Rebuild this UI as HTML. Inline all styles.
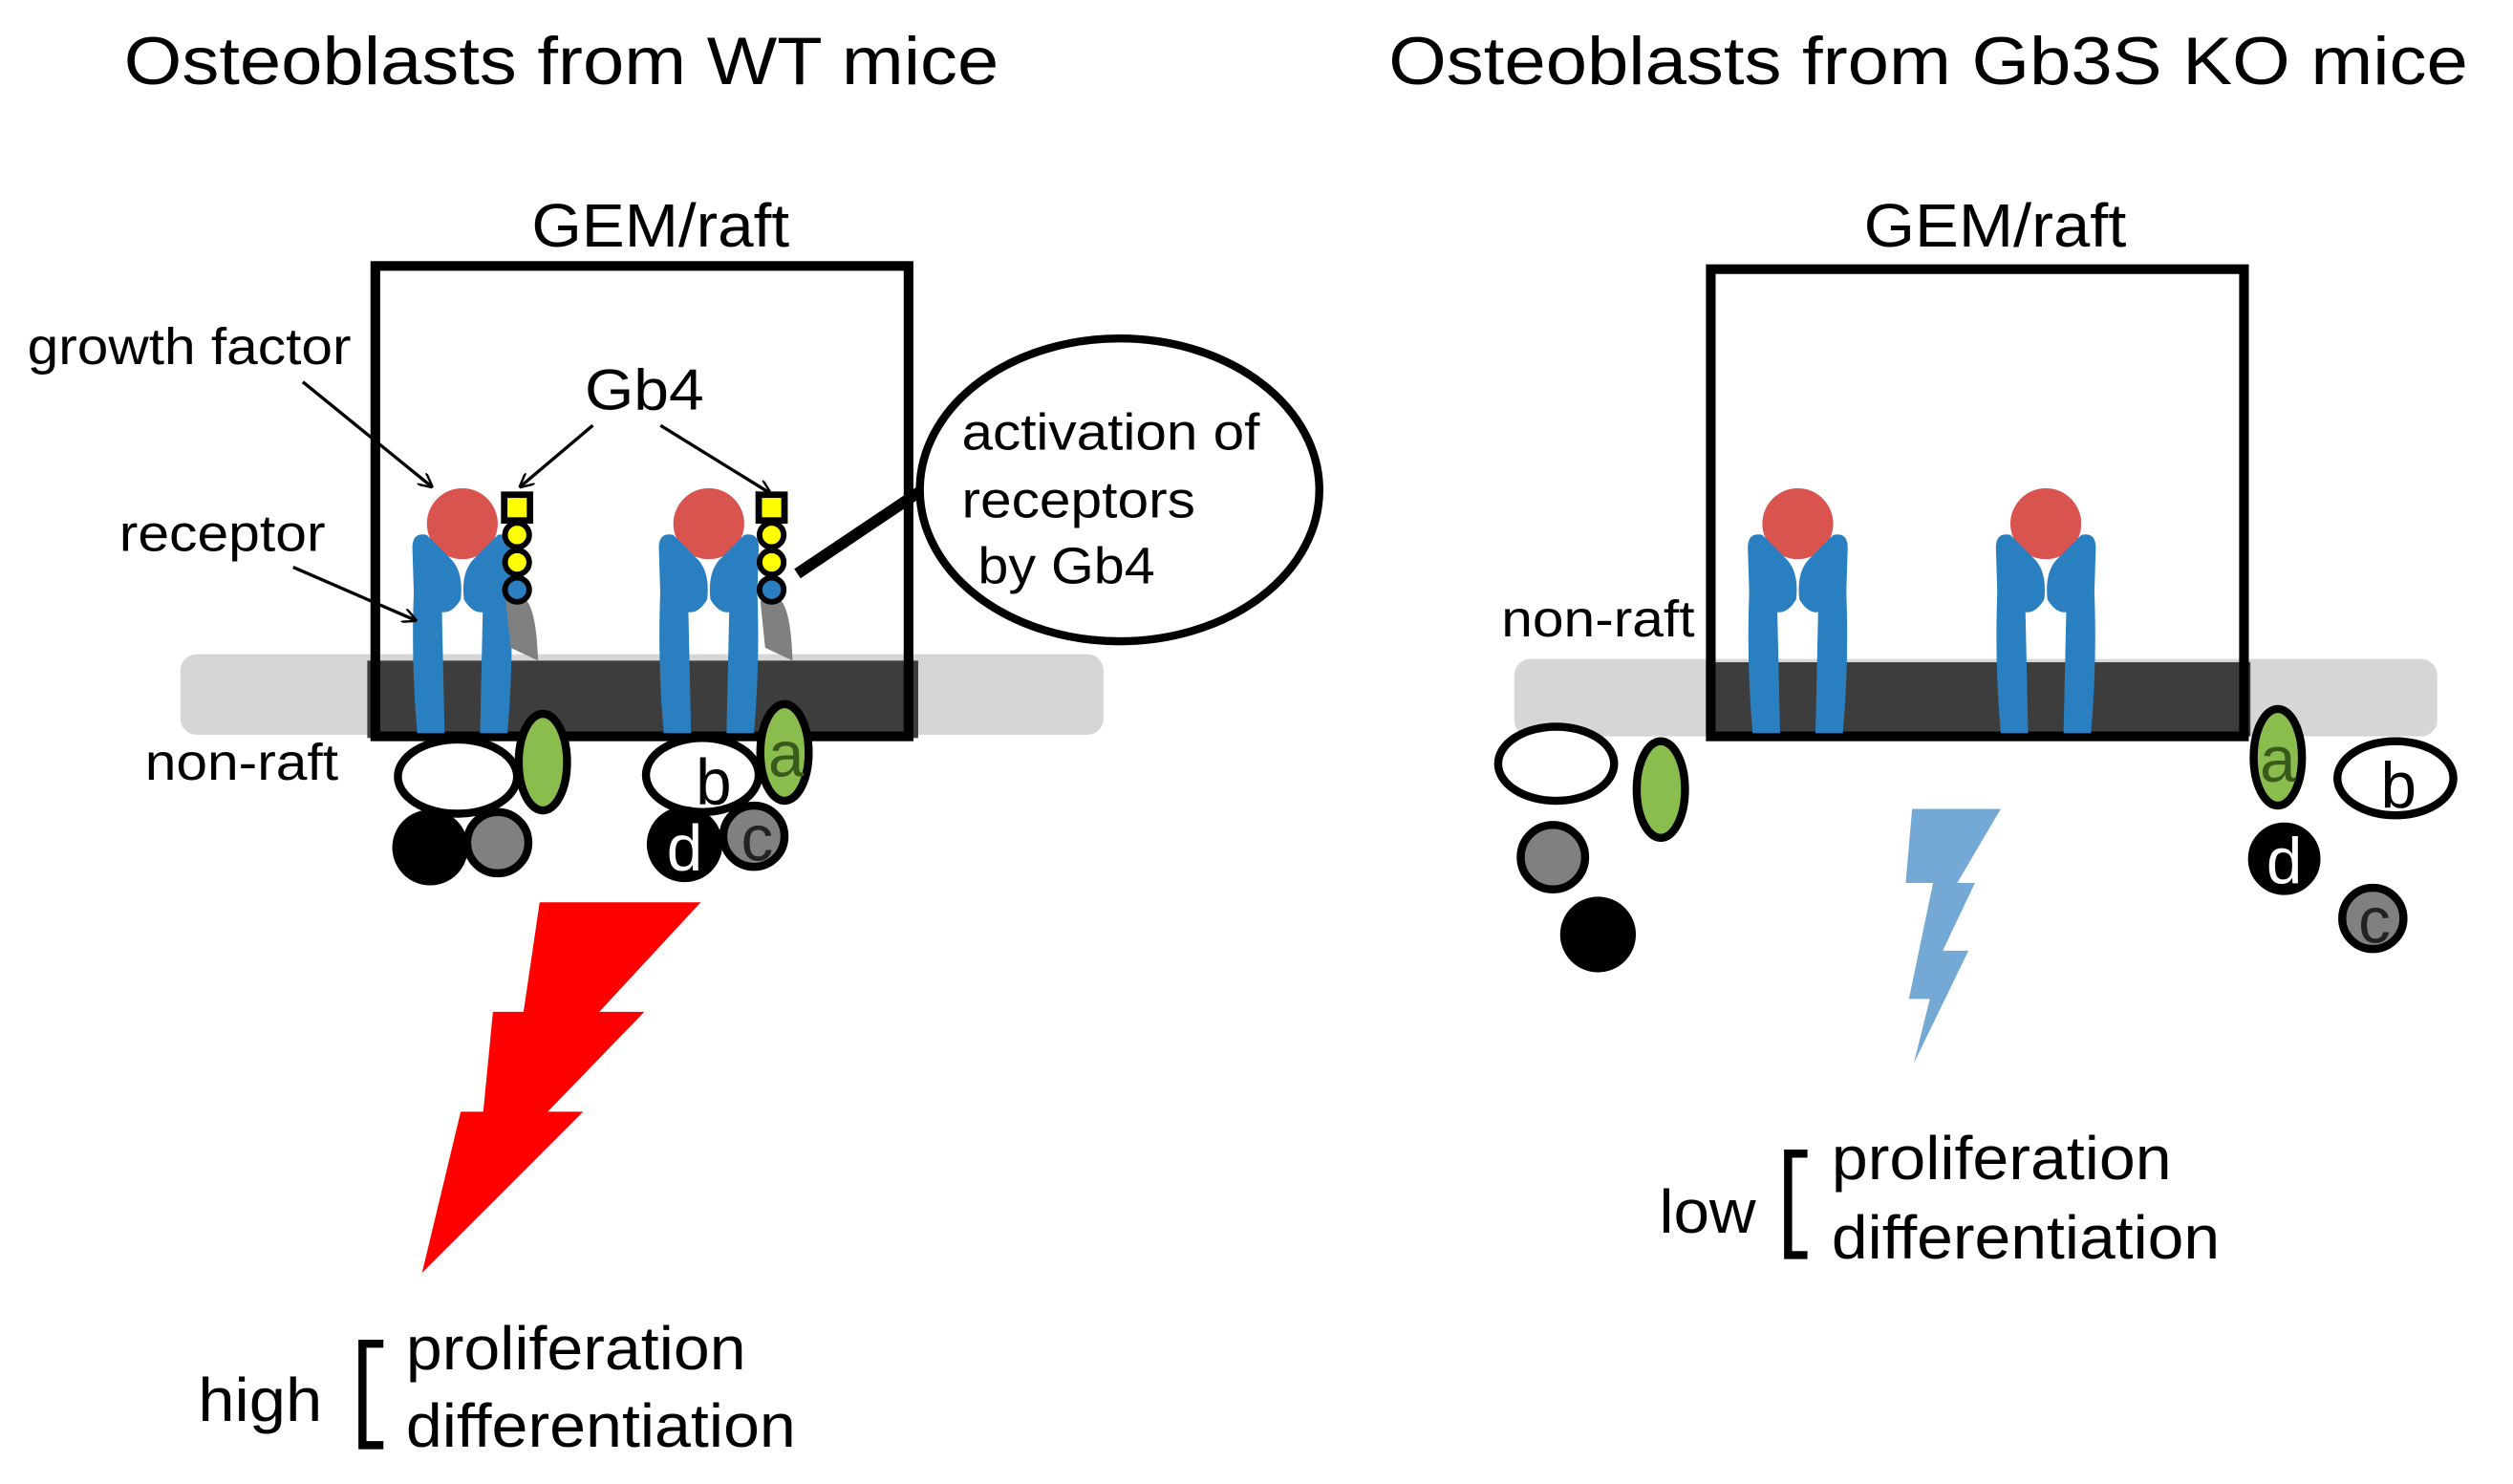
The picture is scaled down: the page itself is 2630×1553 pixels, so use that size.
<!DOCTYPE html>
<html><head><meta charset="utf-8"><style>
html,body{margin:0;padding:0;background:#fff}
svg{display:block}
text{font-family:"Liberation Sans",Arial,sans-serif;fill:#000}
</style></head><body>
<svg width="2630" height="1553" viewBox="0 0 1560 921" xmlns="http://www.w3.org/2000/svg">
<defs>
<g id="rec">
  <circle cx="0" cy="325" r="22" fill="#d9534f"/>
  <g fill="#2a7fc0">
    <path d="M-31,340 Q-31,330 -22,332 L-8,346 Q1,354 -1,372 Q-8,384 -18,378 L-30,372 Z"/>
    <path d="M-30,365 L-13,365 L-11,455 L-28,455 Q-32,410 -30,365 Z"/>
    <g transform="scale(-1,1)">
      <path d="M-31,340 Q-31,330 -22,332 L-8,346 Q1,354 -1,372 Q-8,384 -18,378 L-30,372 Z"/>
      <path d="M-30,365 L-13,365 L-11,455 L-28,455 Q-32,410 -30,365 Z"/>
    </g>
  </g>
</g>
<g id="gb4">
  <path d="M-7,373 L6,373 Q12,380 13,410 L-4,402 Z" fill="#808080"/>
  <rect x="-8" y="307" width="16" height="16" fill="#ffff00" stroke="#000" stroke-width="4"/>
  <circle cx="0" cy="332" r="7.5" fill="#ffff00" stroke="#000" stroke-width="3.5"/>
  <circle cx="0" cy="349" r="7.5" fill="#ffff00" stroke="#000" stroke-width="3.5"/>
  <circle cx="0" cy="366" r="7.5" fill="#2a7fc0" stroke="#000" stroke-width="3.5"/>
</g>
<marker id="ah" viewBox="0 0 10 10" refX="9" refY="5" markerWidth="9" markerHeight="9" orient="auto" markerUnits="userSpaceOnUse">
  <path d="M0,0 L10,5 L0,10" fill="none" stroke="#000" stroke-width="1.6"/>
</marker>
</defs>

<text x="77" y="52" font-size="42" textLength="543" lengthAdjust="spacingAndGlyphs">Osteoblasts from WT mice</text>
<text x="862" y="52" font-size="42" textLength="670" lengthAdjust="spacingAndGlyphs">Osteoblasts from Gb3S KO mice</text>

<!-- LEFT PANEL -->
<text x="330" y="153" font-size="38" textLength="160" lengthAdjust="spacingAndGlyphs">GEM/raft</text>
<rect x="112" y="406" width="573" height="50" rx="10" fill="#d6d6d6"/>
<rect x="228" y="410" width="342" height="48" fill="#3d3d3d"/>
<rect x="233" y="165" width="331" height="292" fill="none" stroke="#000" stroke-width="6"/>
<use href="#rec" x="287"/>
<use href="#rec" x="440"/>
<use href="#gb4" x="321"/>
<use href="#gb4" x="479"/>

<text x="17" y="226" font-size="32" textLength="201" lengthAdjust="spacingAndGlyphs">growth factor</text>
<text x="74" y="342" font-size="32" textLength="128" lengthAdjust="spacingAndGlyphs">receptor</text>
<text x="363" y="254" font-size="36" textLength="74" lengthAdjust="spacingAndGlyphs">Gb4</text>
<text x="90" y="484" font-size="32" textLength="120" lengthAdjust="spacingAndGlyphs">non-raft</text>
<g stroke="#000" stroke-width="2" fill="none" marker-end="url(#ah)">
  <line x1="188" y1="237" x2="268" y2="302"/>
  <line x1="182" y1="352" x2="258" y2="385"/>
  <line x1="368" y1="264" x2="323" y2="302"/>
  <line x1="410" y1="264" x2="478" y2="306"/>
</g>
<ellipse cx="695" cy="304" rx="124" ry="94" fill="#fff" stroke="#000" stroke-width="5"/>
<line x1="495" y1="356" x2="571" y2="305" stroke="#000" stroke-width="7"/>
<text x="597" y="279" font-size="32" textLength="185" lengthAdjust="spacingAndGlyphs">activation of</text>
<text x="597" y="321" font-size="32" textLength="145" lengthAdjust="spacingAndGlyphs">receptors</text>
<text x="607" y="362" font-size="32" textLength="110" lengthAdjust="spacingAndGlyphs">by Gb4</text>

<g stroke="#000" stroke-width="5">
  <ellipse cx="284" cy="482" rx="37" ry="23" fill="#fff"/>
  <ellipse cx="337" cy="473" rx="15" ry="30" fill="#8bbd4e"/>
  <circle cx="267" cy="526" r="21" fill="#000"/>
  <circle cx="309" cy="523" r="19" fill="#808080"/>
  <ellipse cx="436" cy="481" rx="35" ry="23" fill="#fff"/>
  <ellipse cx="487" cy="467" rx="15" ry="30" fill="#8bbd4e"/>
  <circle cx="468" cy="519" r="19" fill="#808080"/>
  <circle cx="425" cy="524" r="21" fill="#000"/>
</g>
<text x="443" y="499" font-size="40" text-anchor="middle">b</text>
<text x="488" y="482" font-size="40" text-anchor="middle" style="fill:#3a5a1c">a</text>
<text x="470" y="534" font-size="40" text-anchor="middle" style="fill:#222">c</text>
<text x="425" y="540" font-size="40" text-anchor="middle" style="fill:#fff">d</text>

<polygon points="335,560 435,560 372,628 400,628 340,690 362,690 262,790 286,690 300,690 306,628 325,628" fill="#ff0000"/>

<text x="123" y="882" font-size="38" textLength="77" lengthAdjust="spacingAndGlyphs">high</text>
<path d="M238,834 L225,834 L225,897 L238,897" fill="none" stroke="#000" stroke-width="5"/>
<text x="252" y="850" font-size="38" textLength="211" lengthAdjust="spacingAndGlyphs">proliferation</text>
<text x="252" y="898" font-size="38" textLength="242" lengthAdjust="spacingAndGlyphs">differentiation</text>

<!-- RIGHT PANEL -->
<text x="1157" y="153" font-size="38" textLength="163" lengthAdjust="spacingAndGlyphs">GEM/raft</text>
<rect x="940" y="409" width="573" height="48" rx="10" fill="#d6d6d6"/>
<rect x="1059" y="411" width="338" height="46" fill="#3d3d3d"/>
<rect x="1062" y="167" width="331" height="290" fill="none" stroke="#000" stroke-width="6"/>
<use href="#rec" x="1116"/>
<use href="#rec" x="1270"/>
<text x="932" y="395" font-size="32" textLength="120" lengthAdjust="spacingAndGlyphs">non-raft</text>

<g stroke="#000" stroke-width="5">
  <ellipse cx="966" cy="474" rx="36" ry="23" fill="#fff"/>
  <ellipse cx="1031" cy="490" rx="15" ry="30" fill="#8bbd4e"/>
  <circle cx="964" cy="532" r="20" fill="#808080"/>
  <circle cx="992" cy="580" r="21" fill="#000"/>
  <ellipse cx="1414" cy="470" rx="15" ry="30" fill="#8bbd4e"/>
  <ellipse cx="1487" cy="483" rx="36" ry="23" fill="#fff"/>
  <circle cx="1418" cy="533" r="20" fill="#000"/>
  <circle cx="1473" cy="570" r="19" fill="#808080"/>
</g>
<text x="1414" y="485" font-size="40" text-anchor="middle" style="fill:#3a5a1c">a</text>
<text x="1489" y="501" font-size="40" text-anchor="middle">b</text>
<text x="1418" y="548" font-size="40" text-anchor="middle" style="fill:#fff">d</text>
<text x="1474" y="585" font-size="40" text-anchor="middle" style="fill:#222">c</text>

<polygon points="1187,502 1242,502 1215,548 1226,548 1206,590 1222,590 1188,660 1198,620 1185,620 1200,548 1183,548" fill="#74a9d6"/>

<text x="1030" y="765" font-size="38" textLength="60" lengthAdjust="spacingAndGlyphs">low</text>
<path d="M1122,716 L1110,716 L1110,779 L1122,779" fill="none" stroke="#000" stroke-width="5"/>
<text x="1137" y="732" font-size="38" textLength="211" lengthAdjust="spacingAndGlyphs">proliferation</text>
<text x="1137" y="781" font-size="38" textLength="241" lengthAdjust="spacingAndGlyphs">differentiation</text>
</svg>
</body></html>
